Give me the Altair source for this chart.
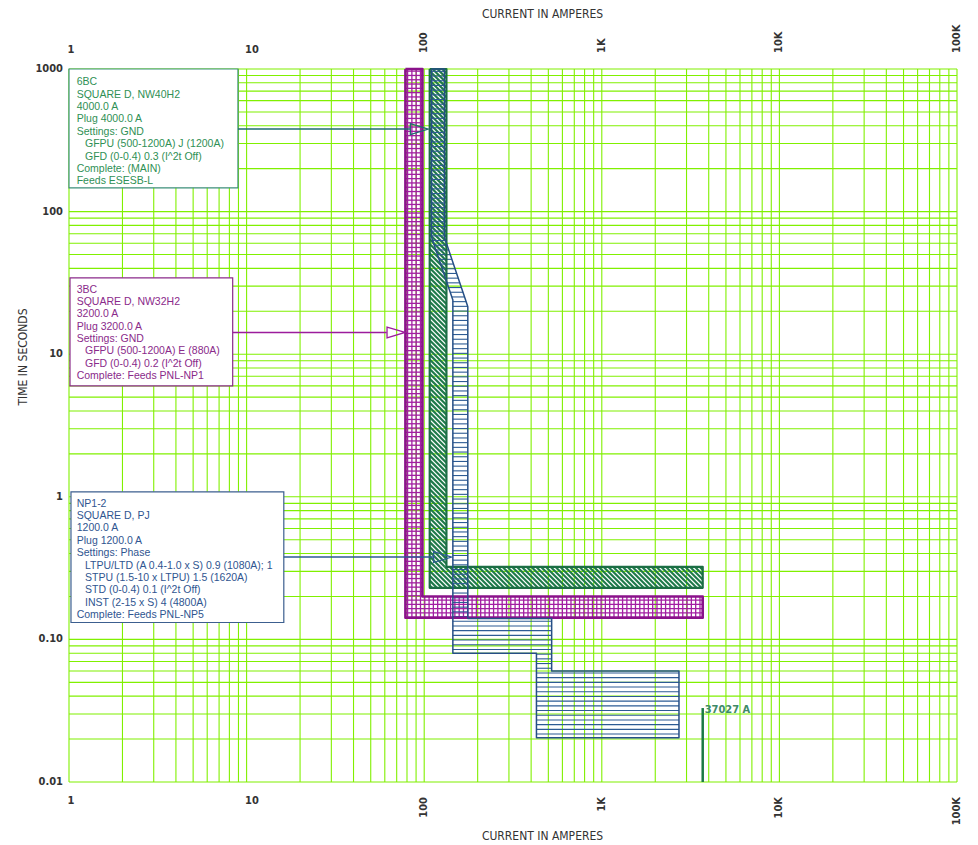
import math
import altair as alt
import pandas as pd

# ---------------- data ----------------
decades_x = [1, 10, 100, 1000, 10000]
grid_x = [k * d for d in decades_x for k in range(1, 10)] + [100000]
decades_y = [0.01, 0.1, 1, 10, 100]
grid_y = [round(k * d, 4) for d in decades_y for k in range(1, 10)] + [1000]

x_tick_vals = [1, 10, 100, 1000, 10000, 100000]
x_tick_text = ["1", "10", "100", "1K", "10K", "100K"]
x_tick_rot = [False, False, True, True, True, True]
y_tick_vals = [1000, 100, 10, 1, 0.1, 0.01]
y_tick_text = ["1000", "100", "10", "1", "0.10", "0.01"]

# 3BC (magenta) band: time, min current, max current
mag_t = [1000, 0.2, 0.2, 0.142]
mag_lo = [78.4, 78.4, 78.4, 78.4]
mag_hi = [97.7, 97.7, 3700, 3700]
# 6BC (green) band
grn_t = [1000, 0.323, 0.323, 0.23]
grn_lo = [107.4, 107.4, 107.4, 107.4]
grn_hi = [133.4, 133.4, 3700, 3700]
# NP1-2 (blue) band
blu_t = [1000, 66, 24, 21.5, 0.14, 0.14, 0.08, 0.08, 0.06, 0.06, 0.0204]
blu_lo = [110, 110, 145, 145, 145, 145, 145, 428.6, 428.6, 428.6, 428.6]
blu_hi = [130, 130, 171, 176, 176, 522, 522, 522, 522, 2720, 2720]

fault_current = 3700
fault_time = 0.033
fault_label = "37027 A"

# label boxes (indented lines flagged with a leading ">")
box_text = [
    ["6BC", "SQUARE D, NW40H2", "4000.0 A", "Plug 4000.0 A", "Settings: GND",
     ">GFPU (500-1200A) J (1200A)", ">GFD (0-0.4) 0.3 (I^2t Off)",
     "Complete: (MAIN)", "Feeds ESESB-L"],
    ["3BC", "SQUARE D, NW32H2", "3200.0 A", "Plug 3200.0 A", "Settings: GND",
     ">GFPU (500-1200A) E (880A)", ">GFD (0-0.4) 0.2 (I^2t Off)",
     "Complete: Feeds PNL-NP1"],
    ["NP1-2", "SQUARE D, PJ", "1200.0 A", "Plug 1200.0 A", "Settings: Phase",
     ">LTPU/LTD (A 0.4-1.0 x S) 0.9 (1080A); 1",
     ">STPU (1.5-10 x LTPU) 1.5 (1620A)",
     ">STD (0-0.4) 0.1 (I^2t Off)",
     ">INST (2-15 x S) 4 (4800A)",
     "Complete: Feeds PNL-NP5"],
]
box_x1 = [1.0, 1.013, 1.026]
box_x2 = [8.94, 8.35, 16.2]
box_t1 = [1000, 34.3, 1.084]
box_t2 = [146.8, 6.0, 0.1314]
text_x = [1.105, 1.105, 1.105]
text_t = [767, 27.0, 0.851]
arrow_t = [378.8, 14.2, 0.3777]
arrow_base = [83.2, 61.5, 112.1]
arrow_tip = [105.5, 78.0, 142.8]

# ---------------- style ----------------
W, H = 888, 713
GRID = "#80f000"
FONT_AX = "DejaVu Sans Condensed, Liberation Sans Narrow, DejaVu Sans"
FONT_BOX = "Liberation Sans, Arial"
AX_COL = "#333333"
MAG, MAG_O = "#a21ea2", "#8a128a"
GRN, GRN_O = "#1f7a4b", "#1b6e44"
BLU, BLU_O = "#2d5b94", "#264f86"
box_stroke = ["#3d8f7a", "#8a2a8a", "#3c5f8f"]
box_color = ["#2f9055", "#8a2a8a", "#2f5590"]
arrow_color = ["#1f6b70", "#9c1c9c", "#2d5b94"]
LINE_H = 12.35
INDENT = 8.3

xs = alt.Scale(type="log", domain=[1, 100000], nice=False)
ys = alt.Scale(type="log", domain=[0.01, 1000], nice=False)

L10 = math.log10


def px(c):
    return W * L10(c) / 5


def py(t):
    return H * (3 - L10(t)) / 5


def cx(x):
    return 10 ** (x * 5 / W)


def ty(y):
    return 10 ** (3 - y * 5 / H)


def lerp_log(a, b, f):
    return 10 ** (L10(a) + f * (L10(b) - L10(a)))


# ---- hatch geometry derived from the band arrays (fill pattern only) ----
def hatch_h(t, lo, hi, period):
    out = []
    y, yend = py(max(t)) + period / 2, py(min(t))
    while y < yend:
        tt = ty(y)
        for i in range(len(t) - 1):
            if t[i] > t[i + 1] and t[i] >= tt >= t[i + 1]:
                f = (L10(t[i]) - L10(tt)) / (L10(t[i]) - L10(t[i + 1]))
                out.append((lerp_log(lo[i], lo[i + 1], f), lerp_log(hi[i], hi[i + 1], f), tt, tt))
                break
        y += period
    return out


def hatch_v(t, lo, hi, period):
    out = []
    x, xend = px(min(lo)) + period / 2, px(max(hi))
    tb = min(t)
    while x < xend:
        c = cx(x)
        for i in range(len(t)):
            if hi[i] >= c:
                out.append((c, c, t[i], tb))
                break
        x += period
    return out


def rects(t, lo, hi):
    r = []
    for i in range(len(t) - 1):
        if t[i] > t[i + 1] and lo[i] == lo[i + 1] and hi[i] == hi[i + 1]:
            r.append((px(lo[i]), px(hi[i]), py(t[i]), py(t[i + 1])))
    return r


def hatch_d(t, lo, hi, period):
    out = []
    rs = rects(t, lo, hi)
    x0 = min(r[0] for r in rs); x1 = max(r[1] for r in rs)
    y0 = min(r[2] for r in rs); y1 = max(r[3] for r in rs)
    step = period * math.sqrt(2)
    k = x0 - y1 + step / 2
    while k < x1 - y0:
        for (rx0, rx1, ry0, ry1) in rs:
            ya = max(ry0, rx0 - k)
            yb = min(ry1, rx1 - k)
            if yb - ya > 0.3:
                out.append((cx(ya + k), cx(yb + k), ty(ya), ty(yb)))
        k += step
    return out


def hatch_layer(segs, color, width):
    df = pd.DataFrame(segs, columns=["c1", "c2", "t1", "t2"])
    return alt.Chart(df).mark_rule(color=color, strokeWidth=width).encode(
        x=alt.X("c1:Q", scale=xs, axis=None), x2="c2:Q",
        y=alt.Y("t1:Q", scale=ys, axis=None), y2="t2:Q")


def band_outline(t, lo, hi, color, width):
    n = len(t)
    cs = [lo[i] for i in range(n)] + [hi[i] for i in reversed(range(n))] + [lo[0]]
    ts = [t[i] for i in range(n)] + [t[i] for i in reversed(range(n))] + [t[0]]
    df = pd.DataFrame({"c": cs, "t": ts, "i": list(range(len(cs)))})
    return alt.Chart(df).mark_line(color=color, strokeWidth=width, strokeJoin="round").encode(
        x=alt.X("c:Q", scale=xs, axis=None),
        y=alt.Y("t:Q", scale=ys, axis=None),
        order="i:Q",
    )


layers = []

# grid
layers.append(alt.Chart(pd.DataFrame({"v": grid_x})).mark_rule(color=GRID, strokeWidth=1.1).encode(
    x=alt.X("v:Q", scale=xs, axis=None)))
layers.append(alt.Chart(pd.DataFrame({"v": grid_y})).mark_rule(color=GRID, strokeWidth=1.1).encode(
    y=alt.Y("v:Q", scale=ys, axis=None)))

# band hatching
layers.append(hatch_layer(hatch_h(mag_t, mag_lo, mag_hi, 4.3), MAG, 1.3))
layers.append(hatch_layer(hatch_v(mag_t, mag_lo, mag_hi, 4.3), MAG, 1.3))
layers.append(hatch_layer(hatch_d(grn_t, grn_lo, grn_hi, 3.4), GRN, 2.2))
layers.append(hatch_layer(hatch_h(blu_t, blu_lo, blu_hi, 4.7), BLU, 1.1))

# outlines
layers.append(band_outline(mag_t, mag_lo, mag_hi, MAG_O, 2.6))
layers.append(band_outline(grn_t, grn_lo, grn_hi, GRN_O, 2.2))
layers.append(band_outline(blu_t, blu_lo, blu_hi, BLU_O, 1.5))

# fault current line and label
fdf = pd.DataFrame({"c": [fault_current], "t1": [fault_time], "t2": [0.01], "s": [fault_label]})
layers.append(alt.Chart(fdf).mark_rule(color="#1a7a45", strokeWidth=2.5).encode(
    x=alt.X("c:Q", scale=xs, axis=None), y=alt.Y("t1:Q", scale=ys, axis=None), y2="t2:Q"))
layers.append(alt.Chart(fdf).mark_text(align="left", baseline="middle", dx=2, dy=2, font=FONT_AX,
                                      fontSize=11, fontWeight="bold", color="#3e8a68").encode(
    x=alt.X("c:Q", scale=xs, axis=None), y=alt.Y("t1:Q", scale=ys, axis=None), text="s:N"))

# label boxes, texts and arrows
ARROW = "M0,0L-2,-0.6L-2,0.6Z"
for k in range(3):
    bdf = pd.DataFrame({"x1": [box_x1[k]], "x2": [box_x2[k]], "t1": [box_t1[k]], "t2": [box_t2[k]]})
    layers.append(alt.Chart(bdf).mark_rect(fill="white", stroke=box_stroke[k], strokeWidth=1.2).encode(
        x=alt.X("x1:Q", scale=xs, axis=None), x2="x2:Q",
        y=alt.Y("t1:Q", scale=ys, axis=None), y2="t2:Q"))
    rows = []
    for j, s in enumerate(box_text[k]):
        ind = s.startswith(">")
        rows.append({
            "x": cx(px(text_x[k]) + (INDENT if ind else 0)),
            "t": ty(py(text_t[k]) + j * LINE_H),
            "s": s[1:] if ind else s,
        })
    layers.append(alt.Chart(pd.DataFrame(rows)).mark_text(
        align="left", baseline="alphabetic", font=FONT_BOX, fontSize=10.5, color=box_color[k]).encode(
        x=alt.X("x:Q", scale=xs, axis=None), y=alt.Y("t:Q", scale=ys, axis=None), text="s:N"))
    adf = pd.DataFrame({"a": [box_x2[k]], "b": [arrow_base[k]], "tip": [arrow_tip[k]], "t": [arrow_t[k]]})
    layers.append(alt.Chart(adf).mark_rule(color=arrow_color[k], strokeWidth=1.5).encode(
        x=alt.X("a:Q", scale=xs, axis=None), x2="b:Q", y=alt.Y("t:Q", scale=ys, axis=None)))
    layers.append(alt.Chart(adf).mark_point(shape=ARROW, size=324, filled=False, color=arrow_color[k],
                                           strokeWidth=1.3, opacity=1).encode(
        x=alt.X("tip:Q", scale=xs, axis=None), y=alt.Y("t:Q", scale=ys, axis=None)))

# tick labels
tick_style = dict(font=FONT_AX, fontSize=11, fontWeight="bold", color=AX_COL)
ydf = pd.DataFrame({"v": y_tick_vals, "s": y_tick_text})
layers.append(alt.Chart(ydf).mark_text(align="right", baseline="middle", **tick_style).encode(
    y=alt.Y("v:Q", scale=ys, axis=None), x=alt.value(-6), text="s:N"))
xdf = pd.DataFrame({"v": x_tick_vals, "s": x_tick_text, "rot": x_tick_rot})
xh = xdf[~xdf["rot"]]
xr = xdf[xdf["rot"]]
layers.append(alt.Chart(xh).mark_text(align="left", baseline="alphabetic", dx=-1.5, **tick_style).encode(
    x=alt.X("v:Q", scale=xs, axis=None), y=alt.value(-16), text="s:N"))
layers.append(alt.Chart(xr).mark_text(angle=270, align="left", baseline="middle", **tick_style).encode(
    x=alt.X("v:Q", scale=xs, axis=None), y=alt.value(-16), text="s:N"))
layers.append(alt.Chart(xh).mark_text(align="left", baseline="alphabetic", dx=-1.5, **tick_style).encode(
    x=alt.X("v:Q", scale=xs, axis=None), y=alt.value(735), text="s:N"))
layers.append(alt.Chart(xr).mark_text(angle=270, align="right", baseline="middle", **tick_style).encode(
    x=alt.X("v:Q", scale=xs, axis=None), y=alt.value(728), text="s:N"))

# axis titles
title_style = dict(font=FONT_AX, fontSize=12, color=AX_COL)
tdf = pd.DataFrame({"s": ["CURRENT IN AMPERES"]})
layers.append(alt.Chart(tdf).mark_text(align="center", baseline="middle", **title_style).encode(
    x=alt.value(473.5), y=alt.value(-55), text="s:N"))
layers.append(alt.Chart(tdf).mark_text(align="center", baseline="middle", **title_style).encode(
    x=alt.value(473.5), y=alt.value(767), text="s:N"))
layers.append(alt.Chart(pd.DataFrame({"s": ["TIME IN SECONDS"]})).mark_text(
    angle=270, align="center", baseline="middle", **title_style).encode(
    x=alt.value(-46), y=alt.value(288), text="s:N"))

chart = alt.layer(*layers).properties(
    width=W, height=H,
    autosize=alt.AutoSizeParams(type="none"),
    padding={"left": 61, "top": 61, "right": 13, "bottom": 62},
    background="white",
).configure_view(strokeWidth=0)

chart.save("out.html", embed_options={"renderer": "svg", "actions": False})
